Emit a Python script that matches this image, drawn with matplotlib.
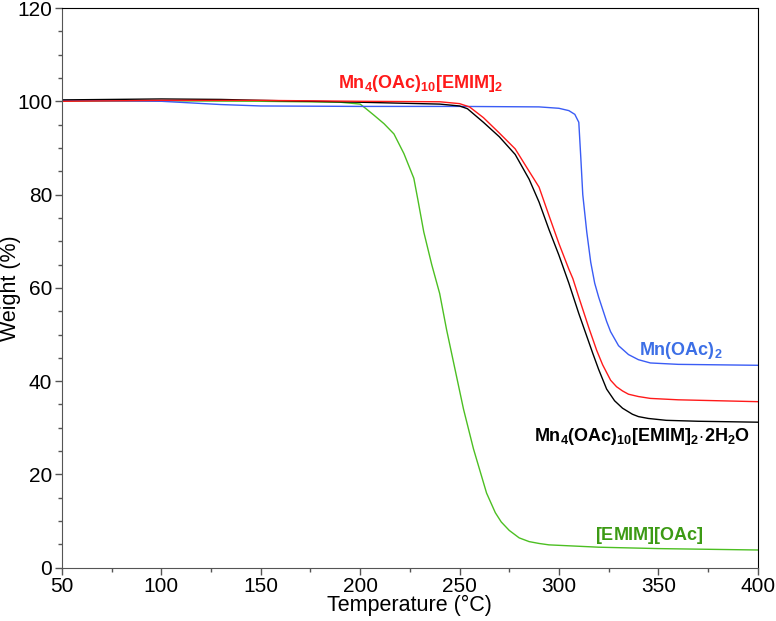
import numpy as np
import matplotlib
matplotlib.use('Agg')
import matplotlib.pyplot as plt
from matplotlib.ticker import MultipleLocator

plt.rcParams['font.family'] = ['Liberation Sans', 'DejaVu Sans']
plt.rcParams['mathtext.fontset'] = 'custom'
plt.rcParams['mathtext.rm'] = 'Liberation Sans'
plt.rcParams['mathtext.bf'] = 'Liberation Sans:bold'

# TGA curves (temperature in deg C, weight in %)
mnoac_t = [50, 100, 130, 150, 200, 250, 290, 300, 305, 308, 310, 311, 312, 314, 316,
           318, 320, 324, 326, 330, 335, 340, 346, 360, 380, 400]
mnoac_w = [100.2, 100.0, 99.3, 99.0, 98.9, 98.9, 98.8, 98.5, 98.0, 97.2, 95.5, 88.0, 80.0,
           72.0, 65.5, 61.0, 58.0, 52.8, 50.6, 47.6, 45.7, 44.6, 43.9, 43.6, 43.5, 43.4]

red_t = [50, 100, 150, 200, 240, 250, 255, 262, 270, 278, 285, 290, 295, 300, 305, 307,
         310, 315, 319, 322, 326, 329, 332, 335, 340, 346, 360, 380, 400]
red_w = [100.0, 100.2, 100.2, 100.0, 99.9, 99.5, 98.8, 96.5, 93.2, 89.8, 85.0, 81.6, 75.5,
         69.5, 64.0, 62.0, 58.0, 51.5, 46.6, 43.5, 40.2, 38.8, 37.9, 37.2, 36.7, 36.3,
         36.0, 35.8, 35.6]

black_t = [50, 100, 130, 150, 200, 240, 250, 254, 262, 270, 278, 285, 290, 295, 300, 305,
           310, 317, 320, 324, 328, 332, 337, 340, 345, 354, 370, 400]
black_w = [100.3, 100.5, 100.4, 100.2, 99.8, 99.4, 99.0, 98.4, 95.5, 92.4, 88.6, 83.3, 78.4,
           72.5, 67.0, 61.0, 54.5, 46.0, 42.5, 38.3, 35.8, 34.2, 32.9, 32.4, 32.0, 31.6,
           31.4, 31.2]

green_t = [50, 100, 150, 190, 200, 203, 207, 212, 217, 222, 227, 229, 232, 236, 240, 243.5,
           248.5, 252, 257, 263.6, 268, 271, 275, 280, 285, 290, 295, 320, 350, 400]
green_w = [100.0, 100.1, 100.0, 99.8, 99.4, 98.4, 97.0, 95.2, 93.0, 88.8, 83.5, 79.0, 72.0,
           65.0, 58.8, 51.0, 41.0, 34.0, 25.5, 16.0, 11.8, 9.8, 8.0, 6.4, 5.6, 5.2, 4.9,
           4.4, 4.1, 3.8]

fig = plt.figure(figsize=(7.76, 6.21), dpi=100)
ax = fig.add_axes([0.0799, 0.0858, 0.8965, 0.9013])

ax.plot(green_t, green_w, color='#4cbf22', lw=1.0)
ax.plot(mnoac_t, mnoac_w, color='#3a5cf5', lw=1.0)
ax.plot(black_t, black_w, color='#000000', lw=1.0)
ax.plot(red_t, red_w, color='#ff1a1a', lw=1.0)

ax.set_xlim(50, 400)
ax.set_ylim(0, 120)
ax.xaxis.set_major_locator(MultipleLocator(50))
ax.xaxis.set_minor_locator(MultipleLocator(25))
ax.yaxis.set_major_locator(MultipleLocator(20))
ax.yaxis.set_minor_locator(MultipleLocator(5))
ax.tick_params(which='major', direction='out', length=5, width=1, labelsize=15,
               color='#555555', pad=2)
ax.tick_params(which='minor', direction='out', length=3, width=1, color='#555555')
for side in ['left', 'bottom']:
    ax.spines[side].set_color('#555555')
for side in ['top', 'right']:
    ax.spines[side].set_color('#000000')

ax.set_xlabel('Temperature (°C)', fontsize=15.5, labelpad=-1)
fig.text(0.013, 0.536, 'Weight (%)', fontsize=15.5, rotation=90, ha='center', va='center')

# compound labels
ax.text(230.5, 103.8, r'$\mathbf{Mn_4(OAc)_{10}[EMIM]_2}$', color='#ff1a1a',
        fontsize=13, ha='center', va='center')
ax.text(361.5, 46.6, r'$\mathbf{Mn(OAc)_2}$', color='#3c6fe6',
        fontsize=13, ha='center', va='center')
ax.text(396.2, 28.2, r'$\mathbf{Mn_4(OAc)_{10}[EMIM]_2\!\cdot\!2H_2O}$', color='#000000',
        fontsize=13, ha='right', va='center')
ax.text(345.8, 7.0, r'$\mathbf{[EMIM][OAc]}$', color='#3c9a14',
        fontsize=13, ha='center', va='center')

fig.savefig('out.png', dpi=100)
